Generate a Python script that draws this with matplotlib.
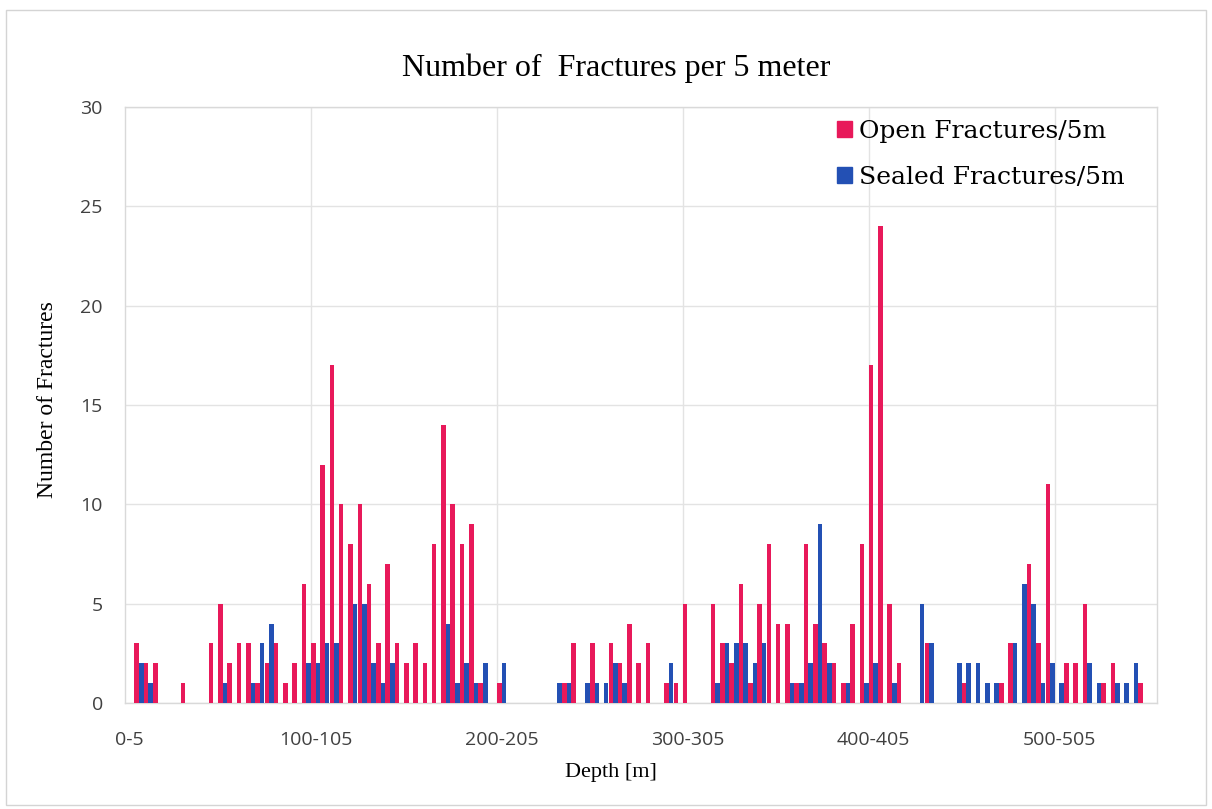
import matplotlib
matplotlib.use('Agg')
import matplotlib.pyplot as plt
from matplotlib.patches import Patch, Rectangle

# 5 m depth intervals
depth_from = list(range(0, 555, 5))
intervals = ['%d-%d' % (d, d + 5) for d in depth_from]

open_frac = [0, 3, 2, 2, 0, 0, 1, 0, 0, 3,
             5, 2, 3, 3, 1, 2, 3, 1, 2, 6,
             3, 12, 17, 10, 8, 10, 6, 3, 7, 3,
             2, 3, 2, 8, 14, 10, 8, 9, 1, 0,
             1, 0, 0, 0, 0, 0, 0, 1, 3, 0,
             3, 0, 3, 2, 4, 2, 3, 0, 1, 1,
             5, 0, 0, 5, 3, 2, 6, 1, 5, 8,
             4, 4, 1, 8, 4, 3, 2, 1, 4, 8,
             17, 24, 5, 2, 0, 0, 3, 0, 0, 0,
             1, 0, 0, 0, 1, 3, 0, 7, 3, 11,
             0, 2, 2, 5, 0, 1, 2, 0, 0, 1,
             0]

sealed_frac = [0, 2, 1, 0, 0, 0, 0, 0, 0, 0,
               1, 0, 0, 1, 3, 4, 0, 0, 0, 2,
               2, 3, 3, 0, 5, 5, 2, 1, 2, 0,
               0, 0, 0, 0, 4, 1, 2, 1, 2, 0,
               2, 0, 0, 0, 0, 0, 1, 1, 0, 1,
               1, 1, 2, 1, 0, 0, 0, 0, 2, 0,
               0, 0, 0, 1, 3, 3, 3, 2, 3, 0,
               0, 1, 1, 2, 9, 2, 0, 1, 0, 1,
               2, 0, 1, 0, 0, 5, 3, 0, 0, 2,
               2, 2, 1, 1, 0, 3, 6, 5, 1, 2,
               1, 0, 0, 2, 1, 0, 1, 1, 2, 0,
               0]

RED = '#E8195A'
BLUE = '#2350B4'
GRID = '#e3e3e3'

fig = plt.figure(figsize=(12.12, 8.09), dpi=100)
fig.patches.append(Rectangle((6 / 1212, 4 / 809), 1200 / 1212, 795 / 809,
                             transform=fig.transFigure, fill=False,
                             edgecolor='#d4d4d4', linewidth=1.0))

ax = fig.add_axes([125 / 1212, 106 / 809, 1032 / 1212, 596 / 809])

x = list(range(len(intervals)))
w = 0.49
ax.bar([i - w / 2 for i in x], open_frac, w, color=RED, linewidth=0, zorder=3)
ax.bar([i + w / 2 for i in x], sealed_frac, w, color=BLUE, linewidth=0, zorder=3)

ax.set_xlim(-0.5, len(intervals) - 0.5)
ax.set_ylim(0, 30)
ax.set_yticks(range(0, 31, 5))

major = list(range(0, len(intervals), 20))
ax.set_xticks(major)
ax.set_xticklabels([intervals[i] for i in major])
ax.set_xticks([i - 0.5 for i in major[1:]], minor=True)

ax.grid(axis='y', color=GRID, linewidth=1.0, zorder=0)
ax.grid(axis='x', which='minor', color=GRID, linewidth=1.0, zorder=0)
for s in ax.spines.values():
    s.set_color('#d9d9d9')
    s.set_linewidth(1.0)

ax.tick_params(axis='both', which='both', length=0)
ax.tick_params(axis='x', pad=20)
ax.tick_params(axis='y', pad=16)
for lab in ax.get_xticklabels() + ax.get_yticklabels():
    lab.set_family('Open Sans')
    lab.set_fontsize(14)
    lab.set_color('#404040')

fig.text(616 / 1212, 1 - 68 / 809, 'Number of  Fractures per 5 meter',
         family='Liberation Serif', fontsize=23, ha='center', va='center')
fig.text(611 / 1212, 1 - 773 / 809, 'Depth [m]',
         family='Liberation Serif', fontsize=16, ha='center', va='center')
fig.text(48 / 1212, 1 - 400 / 809, 'Number of Fractures', rotation=90,
         family='Liberation Serif', fontsize=17, ha='center', va='center')

handles = [Patch(color=RED, label='Open Fractures/5m'),
           Patch(color=BLUE, label='Sealed Fractures/5m')]
ax.legend(handles=handles, loc='upper left',
          bbox_to_anchor=(837 / 1212, 1 - 120 / 809),
          bbox_transform=fig.transFigure, frameon=False,
          prop={'family': 'DejaVu Serif', 'size': 18},
          handlelength=0.6, handleheight=0.6, handletextpad=0.3,
          labelspacing=0.9, borderpad=0, borderaxespad=0)

fig.savefig('out.png', dpi=100, facecolor='white')
